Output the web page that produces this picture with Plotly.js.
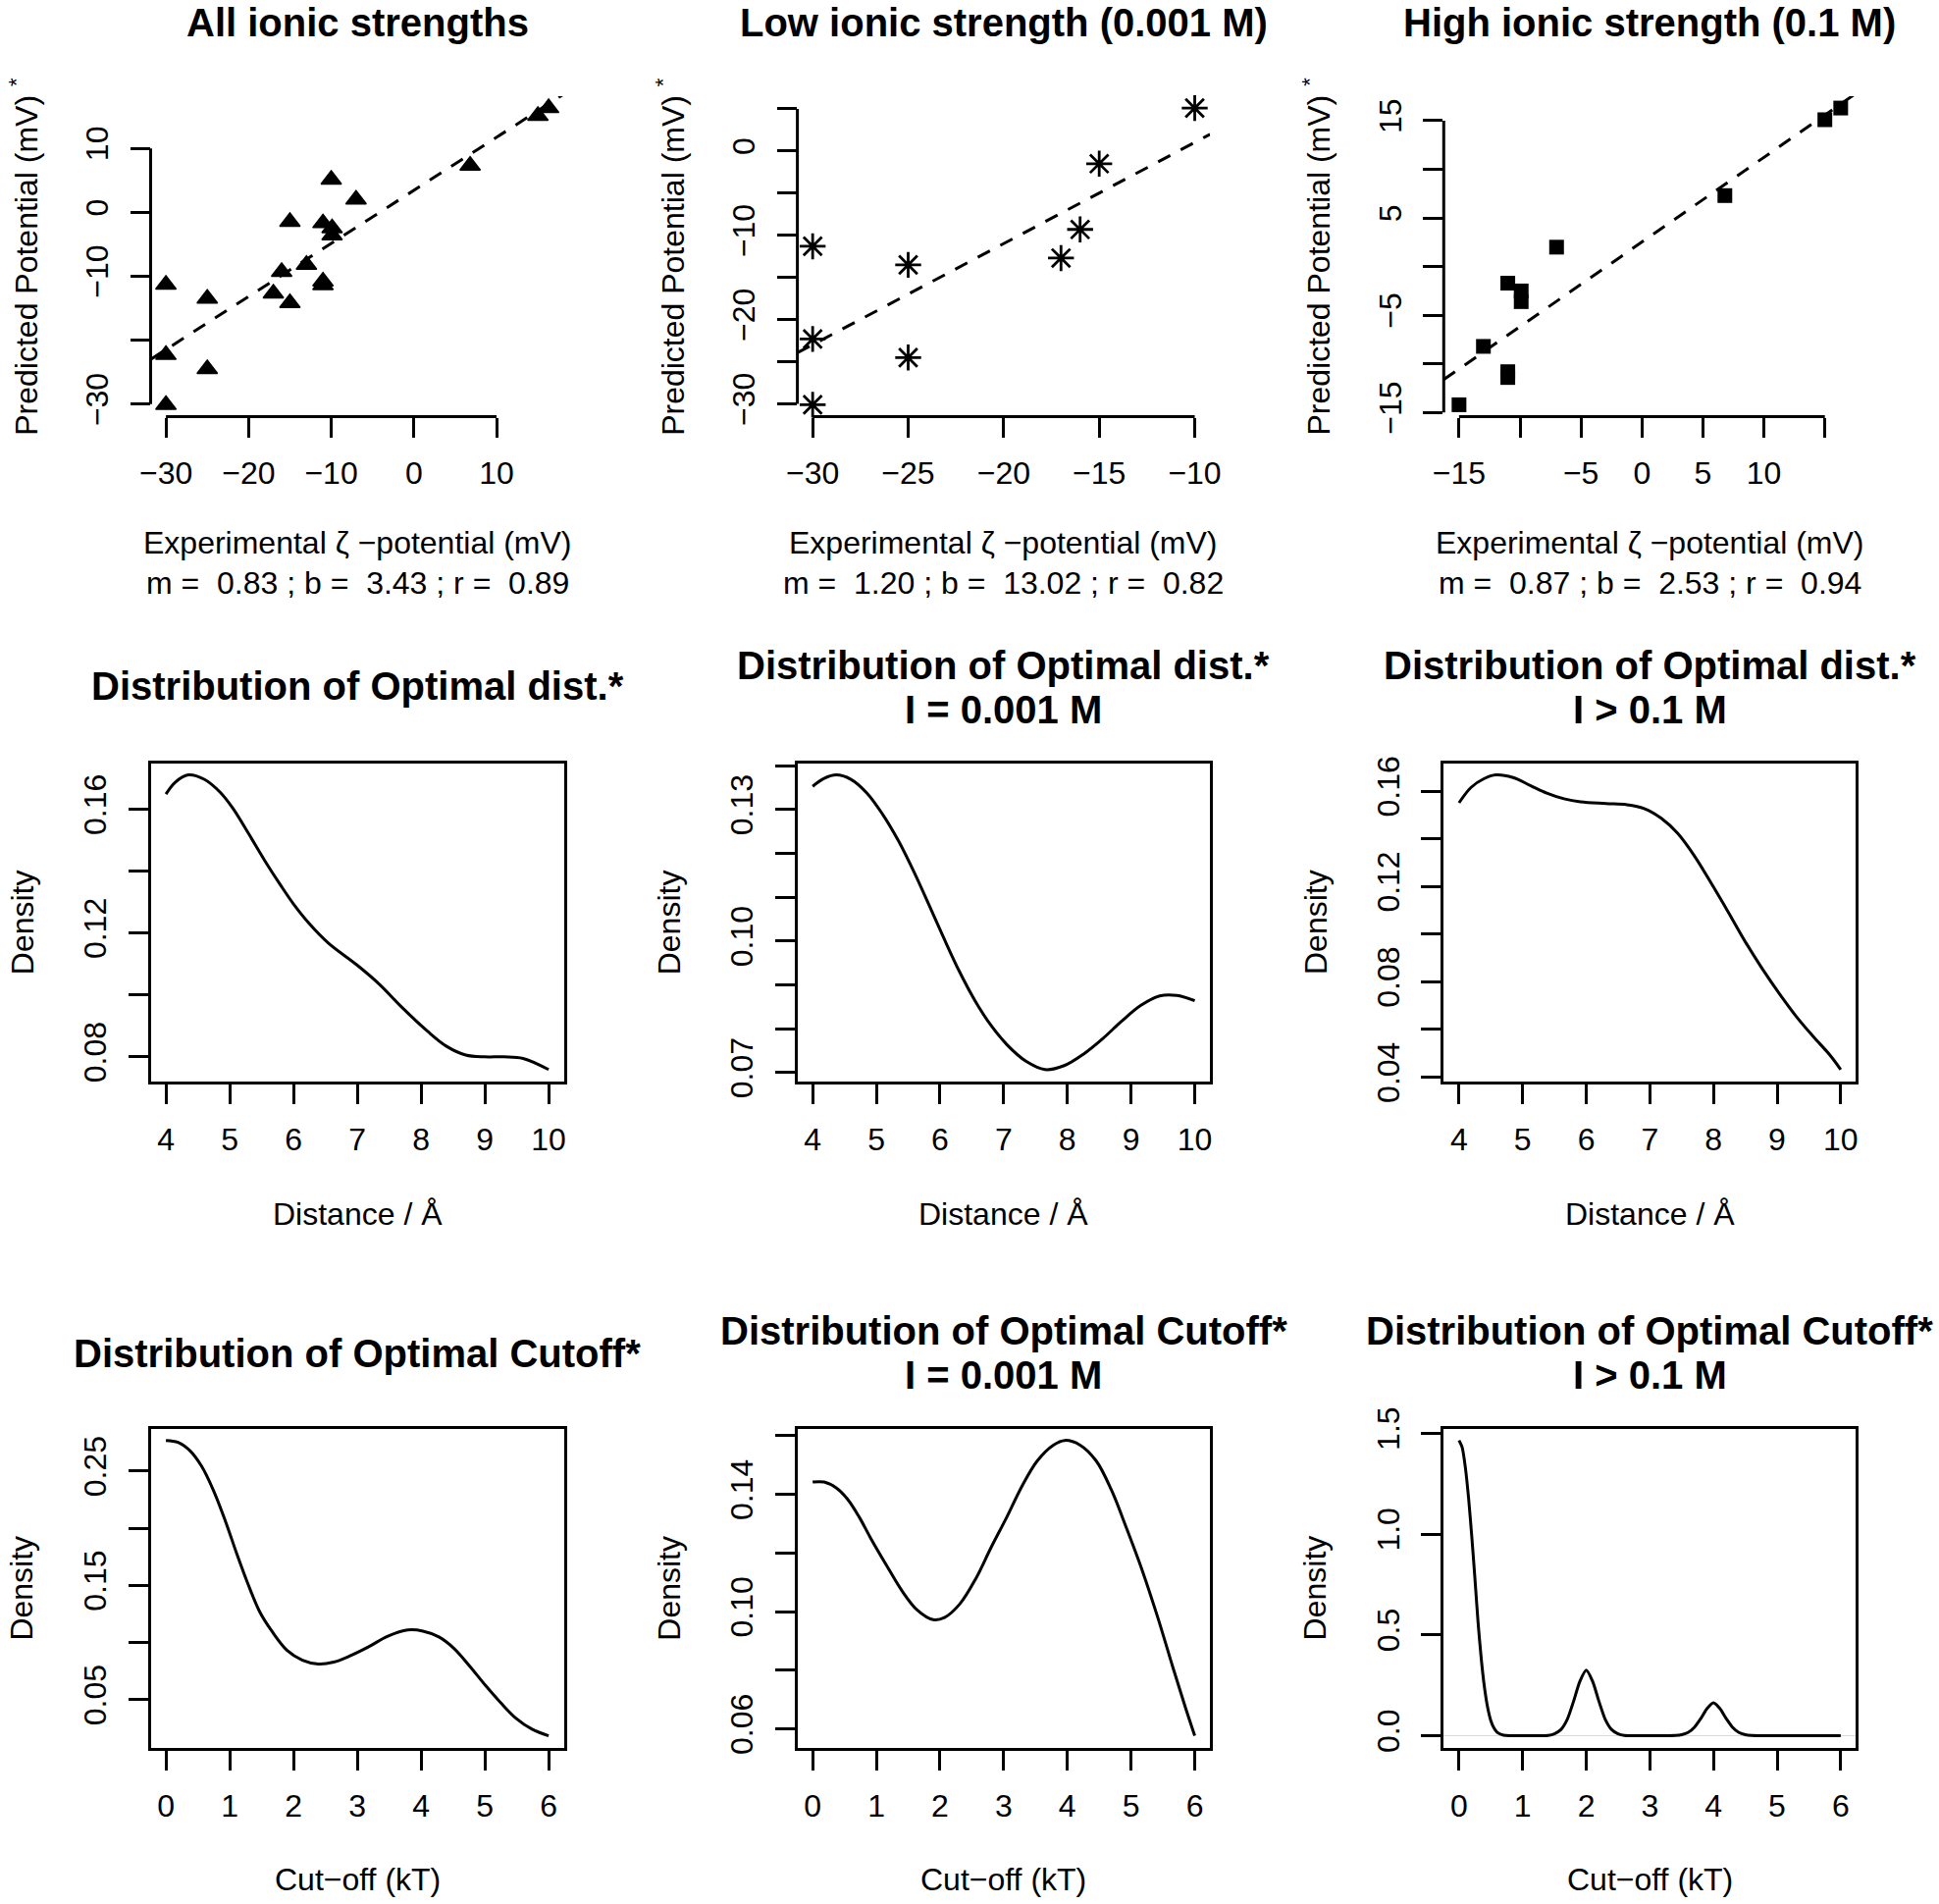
<!DOCTYPE html>
<html>
<head>
<meta charset="utf-8">
<script src="https://cdn.plot.ly/plotly-3.0.1.min.js"></script>
<style>html,body{margin:0;padding:0;background:#fff}</style>
</head>
<body>
<div id="chart" style="width:1976px;height:1940px"></div>
<script>
// ---------------- Row 1: predicted vs experimental potentials ----------------
const allX  = [16.3, 15.0, 6.8, -10, -7.0, -15, -11.0, -9.9, -9.9, -13.0, -16, -11.0, -11.0, -30, -25, -17, -15.0, -30, -25, -30];
const allY  = [16.3, 15.1, 7.3, 5.1, 2.0, -1.5, -1.7, -2.5, -3.6, -8.2, -9.3, -10.8, -11.4, -11.3, -13.5, -12.7, -14.2, -22.3, -24.5, -30.1];
const lowX  = [-10, -15, -16, -17, -30, -25, -30, -25, -30];
const lowY  = [5.1, -1.5, -9.3, -12.7, -11.3, -13.5, -22.3, -24.5, -30.1];
const highX = [16.3, 15.0, 6.8, -7.0, -11.0, -9.9, -9.9, -13.0, -11.0, -11.0, -15.0];
const highY = [16.3, 15.1, 7.3, 2.0, -1.7, -2.5, -3.6, -8.2, -10.8, -11.4, -14.2];
const fitM  = [0.83, 1.20, 0.87];
const fitB  = [3.43, 13.02, 2.53];
const fitR  = [0.89, 0.82, 0.94];

// ---------------- Row 2: density of optimal distance ----------------
const distAllX  = [4.0, 4.15, 4.35, 4.6, 4.85, 5.05, 5.3, 5.55, 5.8, 6.0, 6.25, 6.55, 7.0, 7.35, 7.7, 8.1, 8.4, 8.7, 9.0, 9.3, 9.6, 10.0];
const distAllY  = [0.1649, 0.1688, 0.1711, 0.1697, 0.1655, 0.1603, 0.1520, 0.1434, 0.1354, 0.1294, 0.1230, 0.1167, 0.1096, 0.1034, 0.0960, 0.0883, 0.0834, 0.0806, 0.0800, 0.0800, 0.0795, 0.0759];
const distLowX  = [4.0, 4.18, 4.37, 4.6, 4.85, 5.1, 5.35, 5.6, 5.85, 6.05, 6.3, 6.55, 6.8, 7.05, 7.35, 7.65, 7.95, 8.25, 8.55, 8.85, 9.15, 9.45, 9.72, 10.0];
const distLowY  = [0.1353, 0.1371, 0.1379, 0.1369, 0.1338, 0.1289, 0.1228, 0.1155, 0.1075, 0.1010, 0.0932, 0.0864, 0.0808, 0.0764, 0.0726, 0.0707, 0.0716, 0.0742, 0.0777, 0.0817, 0.0853, 0.0875, 0.0876, 0.0864];
const distHighX = [4.0, 4.19, 4.39, 4.58, 4.85, 5.12, 5.38, 5.65, 5.91, 6.31, 6.64, 6.91, 7.18, 7.44, 7.71, 7.97, 8.24, 8.50, 8.77, 9.04, 9.30, 9.57, 9.83, 10.0];
const distHighY = [0.1551, 0.1616, 0.1652, 0.1668, 0.1657, 0.1624, 0.1592, 0.1568, 0.1555, 0.1548, 0.1543, 0.1527, 0.1486, 0.1422, 0.1324, 0.1211, 0.1089, 0.0968, 0.0854, 0.0749, 0.0655, 0.0570, 0.0493, 0.0432];

// ---------------- Row 3: density of optimal cut-off ----------------
const cutAllX  = [0, 0.19, 0.38, 0.56, 0.74, 0.93, 1.11, 1.29, 1.47, 1.66, 1.90, 2.14, 2.39, 2.63, 2.87, 3.18, 3.48, 3.79, 4.03, 4.28, 4.52, 4.76, 5.01, 5.25, 5.49, 5.74, 6.0];
const cutAllY  = [0.2768, 0.2751, 0.2676, 0.2541, 0.2337, 0.2066, 0.1778, 0.1507, 0.1269, 0.1100, 0.0931, 0.0846, 0.0812, 0.0829, 0.0880, 0.0964, 0.1056, 0.1110, 0.1100, 0.1049, 0.0947, 0.0795, 0.0625, 0.0473, 0.0337, 0.0242, 0.0185];
const cutLowX  = [0, 0.18, 0.37, 0.55, 0.73, 0.91, 1.16, 1.40, 1.64, 1.89, 2.07, 2.31, 2.56, 2.80, 3.05, 3.29, 3.53, 3.78, 3.96, 4.20, 4.45, 4.69, 4.93, 5.18, 5.42, 5.66, 5.85, 6.0];
const cutLowY  = [0.1442, 0.1442, 0.1422, 0.1383, 0.1323, 0.1251, 0.1158, 0.1072, 0.1006, 0.0973, 0.0980, 0.1026, 0.1112, 0.1218, 0.1323, 0.1429, 0.1515, 0.1568, 0.1584, 0.1568, 0.1515, 0.1416, 0.1284, 0.1138, 0.0980, 0.0808, 0.0676, 0.0577];
const cutHighX = [0, 0.05, 0.1, 0.15, 0.2, 0.25, 0.3, 0.35, 0.4, 0.45, 0.5, 0.55, 0.6, 0.7, 0.8, 1.0, 1.2, 1.4, 1.5, 1.6, 1.7, 1.8, 1.9, 2.0, 2.1, 2.2, 2.3, 2.4, 2.5, 2.6, 2.8, 3.0, 3.2, 3.4, 3.5, 3.6, 3.7, 3.8, 3.9, 4.0, 4.1, 4.2, 4.3, 4.4, 4.5, 4.6, 4.8, 5.0, 5.5, 6.0];
const cutHighY = [1.465, 1.43, 1.33, 1.18, 0.99, 0.78, 0.56, 0.38, 0.24, 0.14, 0.075, 0.038, 0.017, 0.003, 0, 0, 0, 0.002, 0.01, 0.03, 0.08, 0.17, 0.27, 0.325, 0.27, 0.17, 0.08, 0.03, 0.01, 0.002, 0, 0, 0, 0.001, 0.005, 0.016, 0.042, 0.085, 0.135, 0.163, 0.135, 0.085, 0.042, 0.016, 0.005, 0.001, 0, 0, 0, 0];

// ---------------- Text ----------------
const topTitles  = ['All ionic strengths', 'Low ionic strength (0.001 M)', 'High ionic strength (0.1 M)'];
const distTitle  = 'Distribution of Optimal dist.*';
const cutTitle   = 'Distribution of Optimal Cutoff*';
const subTitles  = ['', 'I = 0.001 M', 'I > 0.1 M'];
const scatXLab   = 'Experimental ζ −potential (mV)';
const scatYLab   = 'Predicted Potential (mV) <sup>*</sup>';
const distXLab   = 'Distance / Å';
const cutXLab    = 'Cut−off (kT)';
const densYLab   = 'Density';

// ---------------- Ticks ----------------
const scatTickX     = [[-30, -20, -10, 0, 10], [-30, -25, -20, -15, -10], [-15, -10, -5, 0, 5, 10, 15]];
const scatTickXText = [['−30', '−20', '−10', '0', '10'], ['−30', '−25', '−20', '−15', '−10'], ['−15', '', '−5', '0', '5', '10', '']];
const scatTickY     = [[-30, -20, -10, 0, 10], [-30, -25, -20, -15, -10, -5, 0, 5], [-15, -10, -5, 0, 5, 10, 15]];
const scatTickYText = [['−30', '', '−10', '0', '10'], ['−30', '', '−20', '', '−10', '', '0', ''], ['−15', '', '−5', '', '5', '', '15']];
const distTickX     = [4, 5, 6, 7, 8, 9, 10];
const distTickY     = [[0.08, 0.10, 0.12, 0.14, 0.16], [0.07, 0.08, 0.09, 0.10, 0.11, 0.12, 0.13, 0.14], [0.04, 0.06, 0.08, 0.10, 0.12, 0.14, 0.16]];
const distTickYText = [['0.08', '', '0.12', '', '0.16'], ['0.07', '', '', '0.10', '', '', '0.13', ''], ['0.04', '', '0.08', '', '0.12', '', '0.16']];
const cutTickX      = [0, 1, 2, 3, 4, 5, 6];
const cutTickY      = [[0.05, 0.10, 0.15, 0.20, 0.25], [0.06, 0.08, 0.10, 0.12, 0.14, 0.16], [0, 0.5, 1.0, 1.5]];
const cutTickYText  = [['0.05', '', '0.15', '', '0.25'], ['0.06', '', '0.10', '', '0.14', ''], ['0.0', '0.5', '1.0', '1.5']];

// ---------------- Layout geometry (pixels) ----------------
const W = 1976, H = 1940;
const FONT = 'Liberation Sans, Arial, Helvetica, sans-serif';
const colPx = [[153.5, 574.7], [812.6, 1233.1], [1471.3, 1891.4]];
const rowPx = [[98, 424.5], [777.6, 1101.8], [1455.6, 1780.6]];
const LW = 3, TICKLEN = 20, TICKFS = 32, TITLEFS = 40;
const XSTAND = 9, YSTAND = 10;

function padRange(arr) {
  const mn = Math.min(...arr), mx = Math.max(...arr), d = (mx - mn) * 0.04;
  return [mn - d, mx + d];
}
const px = v => v / W;
const py = v => 1 - v / H;

const traces = [], shapes = [], annotations = [];
const layout = {
  width: W, height: H, margin: {l: 0, r: 0, t: 0, b: 0},
  paper_bgcolor: '#fff', plot_bgcolor: '#fff', showlegend: false,
  font: {family: FONT, size: TICKFS, color: '#000'},
  shapes: shapes, annotations: annotations
};

function ann(text, x, y, size, bold, angle) {
  annotations.push({
    text: bold ? '<b>' + text + '</b>' : text, xref: 'paper', yref: 'paper',
    x: px(x), y: py(y), xanchor: 'center', yanchor: 'middle', showarrow: false,
    textangle: angle || 0, font: {family: FONT, size: size, color: '#000'}
  });
}

function addPanel(r, c, cfg) {
  const k = r * 3 + c + 1, s = k > 1 ? String(k) : '';
  const xr = 'x' + s, yr = 'y' + s;
  const [x0, x1] = colPx[c], [y0, y1] = rowPx[r];
  const common = {
    tickmode: 'array', ticks: 'outside', ticklen: TICKLEN, tickwidth: LW, tickcolor: '#000',
    showgrid: false, zeroline: false, linecolor: '#000', linewidth: LW,
    showline: cfg.box, mirror: cfg.box, automargin: false, fixedrange: true,
    tickfont: {family: FONT, size: TICKFS, color: '#000'}
  };
  layout['xaxis' + s] = Object.assign({}, common, {
    domain: [px(x0), px(x1)], anchor: yr, range: padRange(cfg.x),
    tickvals: cfg.xt, ticktext: cfg.xtt, ticklabelstandoff: XSTAND, tickangle: 0
  });
  layout['yaxis' + s] = Object.assign({}, common, {
    domain: [py(y1), py(y0)], anchor: xr, range: padRange(cfg.y),
    tickvals: cfg.yt, ticktext: cfg.ytt, ticklabelstandoff: YSTAND, tickangle: -90
  });
  if (cfg.zero) {
    layout['yaxis' + s].zeroline = true;
    layout['yaxis' + s].zerolinecolor = '#d9d9d9';
    layout['yaxis' + s].zerolinewidth = 1;
  }
  if (!cfg.box) {
    shapes.push({type: 'line', xref: xr, yref: yr + ' domain', x0: cfg.xt[0], x1: cfg.xt[cfg.xt.length - 1], y0: 0, y1: 0, line: {color: '#000', width: LW}});
    shapes.push({type: 'line', xref: xr + ' domain', yref: yr, x0: 0, x1: 0, y0: cfg.yt[0], y1: cfg.yt[cfg.yt.length - 1], line: {color: '#000', width: LW}});
  }
  return {xr, yr, xRange: padRange(cfg.x)};
}

// Row 1 scatter panels
const scatSets = [[allX, allY], [lowX, lowY], [highX, highY]];
const markerStyles = [
  {symbol: 'triangle-up', size: 18, color: '#000', line: {color: '#000', width: 1.5}},
  {symbol: 'asterisk-open', size: 22, color: '#000', line: {color: '#000', width: 2.8}},
  {symbol: 'square', size: 15, color: '#000', line: {color: '#000', width: 0}}
];
for (let c = 0; c < 3; c++) {
  const [xs, ys] = scatSets[c];
  const p = addPanel(0, c, {x: xs, y: ys, xt: scatTickX[c], xtt: scatTickXText[c], yt: scatTickY[c], ytt: scatTickYText[c], box: false});
  const lx = p.xRange;
  traces.push({x: lx, y: lx.map(v => fitM[c] * v + fitB[c]), xaxis: p.xr, yaxis: p.yr, mode: 'lines',
    line: {color: '#000', width: LW, dash: '14px,12px'}, cliponaxis: true, hoverinfo: 'skip'});
  traces.push({x: xs, y: ys, xaxis: p.xr, yaxis: p.yr, mode: 'markers', marker: markerStyles[c], cliponaxis: false});
  const cx = (colPx[c][0] + colPx[c][1]) / 2;
  ann(topTitles[c], cx, 22.7, TITLEFS, true);
  ann(scatXLab, cx, 553, TICKFS, false);
  ann('m =\u00a0 ' + fitM[c].toFixed(2) + ' ; b =\u00a0 ' + fitB[c].toFixed(2) + ' ; r =\u00a0 ' + fitR[c].toFixed(2), cx, 594, TICKFS, false);
  ann(scatYLab, colPx[c][0] - 129, (rowPx[0][0] + rowPx[0][1]) / 2, TICKFS, false, -90);
}

// Rows 2 & 3 density panels
const densRows = [
  {sets: [[distAllX, distAllY], [distLowX, distLowY], [distHighX, distHighY]], xt: distTickX, yt: distTickY, ytt: distTickYText,
   title: distTitle, xlab: distXLab, tY1: 699.3, tY2: [677.6, 723], xlabY: 1237},
  {sets: [[cutAllX, cutAllY], [cutLowX, cutLowY], [cutHighX, cutHighY]], xt: cutTickX, yt: cutTickY, ytt: cutTickYText,
   title: cutTitle, xlab: cutXLab, tY1: 1378.5, tY2: [1355.6, 1401], xlabY: 1915}
];
densRows.forEach((row, i) => {
  const r = i + 1;
  for (let c = 0; c < 3; c++) {
    const [xs, ys] = row.sets[c];
    const p = addPanel(r, c, {x: xs, y: ys, xt: row.xt, xtt: row.xt.map(String), yt: row.yt[c], ytt: row.ytt[c], box: true, zero: (r === 2 && c === 2)});
    traces.push({x: xs, y: ys, xaxis: p.xr, yaxis: p.yr, mode: 'lines',
      line: {color: '#000', width: LW, shape: 'spline', smoothing: (r === 2 && c === 2) ? 0.7 : 1.0}, hoverinfo: 'skip'});
    const cx = (colPx[c][0] + colPx[c][1]) / 2;
    if (subTitles[c] === '') {
      ann(row.title, cx, row.tY1, TITLEFS, true);
    } else {
      ann(row.title, cx, row.tY2[0], TITLEFS, true);
      ann(subTitles[c], cx, row.tY2[1], TITLEFS, true);
    }
    ann(row.xlab, cx, row.xlabY, TICKFS, false);
    ann(densYLab, colPx[c][0] - 131, (rowPx[r][0] + rowPx[r][1]) / 2, TICKFS, false, -90);
  }
});

Plotly.newPlot('chart', traces, layout, {staticPlot: true, displayModeBar: false});
</script>
</body>
</html>
